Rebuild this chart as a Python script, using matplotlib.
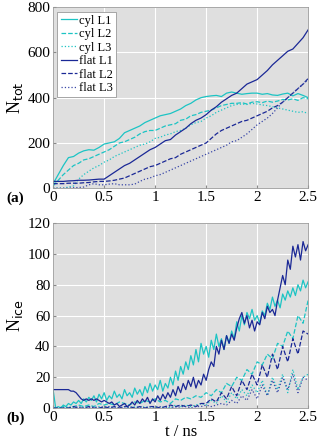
import numpy as np
import matplotlib.pyplot as plt

plt.rcParams['font.family'] = ['Liberation Serif', 'DejaVu Serif']

# ---- panel (a): N_tot, sampled every 0.05 ns ----
tot_cyl1 = [20, 60, 100, 135, 140, 155, 165, 170, 168, 180, 195, 200, 205, 220, 245, 255, 265, 275, 290, 300,
            310, 320, 325, 330, 340, 350, 365, 375, 390, 400, 405, 408, 410, 405, 420, 425, 420, 415, 418, 420,
            420, 415, 418, 412, 410, 416, 420, 408, 418, 410, 400]
tot_cyl2 = [10, 35, 60, 80, 100, 110, 125, 130, 140, 150, 160, 170, 185, 200, 205, 215, 225, 240, 250, 255,
            255, 265, 275, 280, 285, 300, 305, 320, 325, 335, 340, 345, 355, 365, 370, 375, 375, 378, 372, 380,
            382, 378, 385, 380, 385, 392, 390, 395, 388, 400, 395]
tot_cyl3 = [0, 0, 0, 5, 10, 40, 60, 75, 90, 100, 115, 125, 140, 150, 160, 170, 180, 190, 195, 205,
            220, 225, 235, 240, 250, 255, 265, 280, 290, 295, 310, 320, 335, 345, 355, 365, 370, 372, 370, 375,
            372, 368, 365, 360, 355, 350, 345, 340, 335, 338, 330]
tot_flat1 = [30, 30, 30, 32, 33, 35, 35, 36, 38, 40, 40, 55, 70, 85, 100, 110, 125, 140, 155, 170,
             180, 195, 210, 215, 235, 250, 265, 285, 300, 310, 325, 345, 360, 380, 395, 410, 420, 440, 460, 470,
             480, 500, 520, 545, 565, 585, 605, 615, 640, 665, 700]
tot_flat2 = [20, 20, 20, 22, 22, 22, 24, 25, 28, 30, 30, 32, 35, 40, 45, 55, 65, 75, 85, 95,
             100, 110, 120, 130, 135, 150, 160, 170, 180, 190, 200, 220, 240, 255, 265, 275, 285, 295, 300, 310,
             320, 330, 340, 355, 365, 380, 400, 420, 440, 460, 485]
tot_flat3 = [0, 0, 0, 0, 2, 3, 5, 15, 20, 15, 15, 18, 20, 15, 15, 15, 18, 30, 40, 45,
             55, 60, 70, 80, 90, 100, 110, 120, 130, 140, 150, 160, 170, 180, 190, 205, 210, 225, 240, 260,
             280, 295, 310, 330, 355, 380, 400, 420, 440, 460, 480]

# ---- panel (b): N_ice ----
ice_flat1 = [12, 12, 12, 12, 12, 12, 12, 11, 11, 10, 8, 6, 5, 6, 5, 6, 5, 6, 5, 4,
             5, 4, 3, 4, 2, 3, 1, 2, 3, 1, 2, 4, 2, 5, 3, 6, 4, 7, 3, 6,
             4, 8, 5, 9, 6, 10, 7, 12, 8, 14, 10, 16, 12, 18, 14, 20, 13, 18, 15, 22,
             18, 25, 30, 27, 40, 35, 44, 38, 47, 42, 48, 44, 52, 58, 62, 55, 60, 52, 57, 50,
             56, 54, 62, 58, 66, 62, 64, 60, 70, 78, 86, 80, 96, 90, 105, 98, 106, 96, 108, 102, 106]
ice_cyl1 = [12, 0, 1, 0, 2, 1, 3, 2, 4, 3,
            5, 3, 6, 4, 7, 5, 8, 4, 9, 6, 10, 5, 8, 6, 11, 7, 9, 6, 12, 8,
            10, 7, 13, 9, 12, 8, 14, 10, 16, 11, 15, 12, 18, 11, 16, 13, 20, 15, 24, 18,
            27, 22, 30, 25, 34, 28, 38, 30, 42, 35, 40, 33, 44, 38, 48, 40, 45, 38, 47, 42,
            50, 45, 56, 50, 60, 54, 62, 58, 64, 57, 60, 55, 63, 60, 68, 64, 72, 66, 70, 65,
            74, 70, 76, 72, 78, 73, 80, 76, 83, 78, 82]
ice_cyl2 = [0, 0, 1, 0, 1, 2, 1, 2, 1, 3, 2, 3, 2, 4, 3, 2, 4, 3, 5, 4,
            6, 4, 5, 3, 6, 5, 7, 6, 8, 7, 10, 8, 12, 10, 16, 14, 20, 18, 25, 22,
            30, 28, 35, 32, 42, 40, 50, 45, 60, 55, 70]
ice_cyl3 = [0, 0, 0, 1, 0, 0, 1, 0, 0, 1, 0, 1, 0, 0, 1, 0, 1, 0, 1, 0,
            1, 0, 1, 0, 2, 1, 2, 1, 2, 3, 2, 5, 3, 8, 4, 10, 6, 12, 8, 15,
            10, 18, 8, 20, 12, 22, 10, 25, 12, 20, 22]
ice_flat2 = [0, 0, 0, 0, 1, 0, 0, 1, 0, 0, 1, 0, 1, 0, 1, 1, 0, 1, 0, 1,
             1, 0, 1, 2, 1, 2, 1, 2, 1, 3, 3, 6, 4, 10, 6, 14, 8, 18, 12, 22,
             15, 28, 20, 35, 25, 40, 30, 45, 35, 50, 48]
ice_flat3 = [0, 0, 0, 0, 0, 1, 0, 0, 1, 0, 0, 1, 0, 0, 1, 0, 0, 1, 0, 1,
             0, 1, 0, 1, 0, 1, 1, 0, 1, 1, 2, 1, 2, 3, 2, 5, 3, 8, 5, 12,
             6, 15, 8, 18, 10, 20, 12, 22, 10, 20, 18]

labels = ['cyl L1', 'cyl L2', 'cyl L3', 'flat L1', 'flat L2', 'flat L3']
cyan = '#1cc4c4'
navy = '#1a2896'
colors = [cyan, cyan, cyan, navy, navy, '#3a48a8']
styles = ['-', '--', ':', '-', '--', ':']

fig = plt.figure(figsize=(3.2, 4.47), dpi=100)
ax1 = fig.add_axes([0.166, 0.579, 0.797, 0.405])
ax2 = fig.add_axes([0.166, 0.087, 0.797, 0.414])

def series(ax, data):
    for vals, lab, c, ls in zip(data, labels, colors, styles):
        t = np.linspace(0, 2.5, len(vals))
        ax.plot(t, vals, color=c, ls=ls, lw=0.9, label=lab)

series(ax1, [tot_cyl1, tot_cyl2, tot_cyl3, tot_flat1, tot_flat2, tot_flat3])
series(ax2, [ice_cyl1, ice_cyl2, ice_cyl3, ice_flat1, ice_flat2, ice_flat3])

for ax in (ax1, ax2):
    ax.set_facecolor('#dfdfdf')
    ax.grid(True, color='white', lw=0.8)
    ax.set_axisbelow(True)
    ax.set_xlim(0, 2.5)
    ax.set_xticks([0, 0.5, 1, 1.5, 2, 2.5])
    ax.set_xticklabels(['0', '0.5', '1', '1.5', '2', '2.5'])
    ax.tick_params(direction='in', length=2, labelsize=11, color='#888888', pad=2)
    for s in ax.spines.values():
        s.set_color('#999999')
        s.set_linewidth(0.6)

ax1.set_ylim(0, 800)
ax1.set_yticks([0, 200, 400, 600, 800])
ax1.set_ylabel('N$_{\\rm tot}$', fontsize=13, labelpad=2)
ax2.set_ylim(0, 120)
ax2.set_yticks([0, 20, 40, 60, 80, 100, 120])
ax2.set_ylabel('N$_{\\rm ice}$', fontsize=13, labelpad=2)
ax2.set_xlabel('t / ns', fontsize=12, labelpad=0)

leg = ax1.legend(loc='upper left', fontsize=9, handlelength=1.3, handletextpad=0.2,
                 labelspacing=0.12, borderpad=0.25, fancybox=False, framealpha=1,
                 borderaxespad=0.35)
leg.get_frame().set_edgecolor('#999999')
leg.get_frame().set_linewidth(0.6)

fig.text(0.02, 0.548, '(a)', fontsize=11, fontweight='bold')
fig.text(0.02, 0.056, '(b)', fontsize=11, fontweight='bold')

fig.savefig('out.png', dpi=100)
